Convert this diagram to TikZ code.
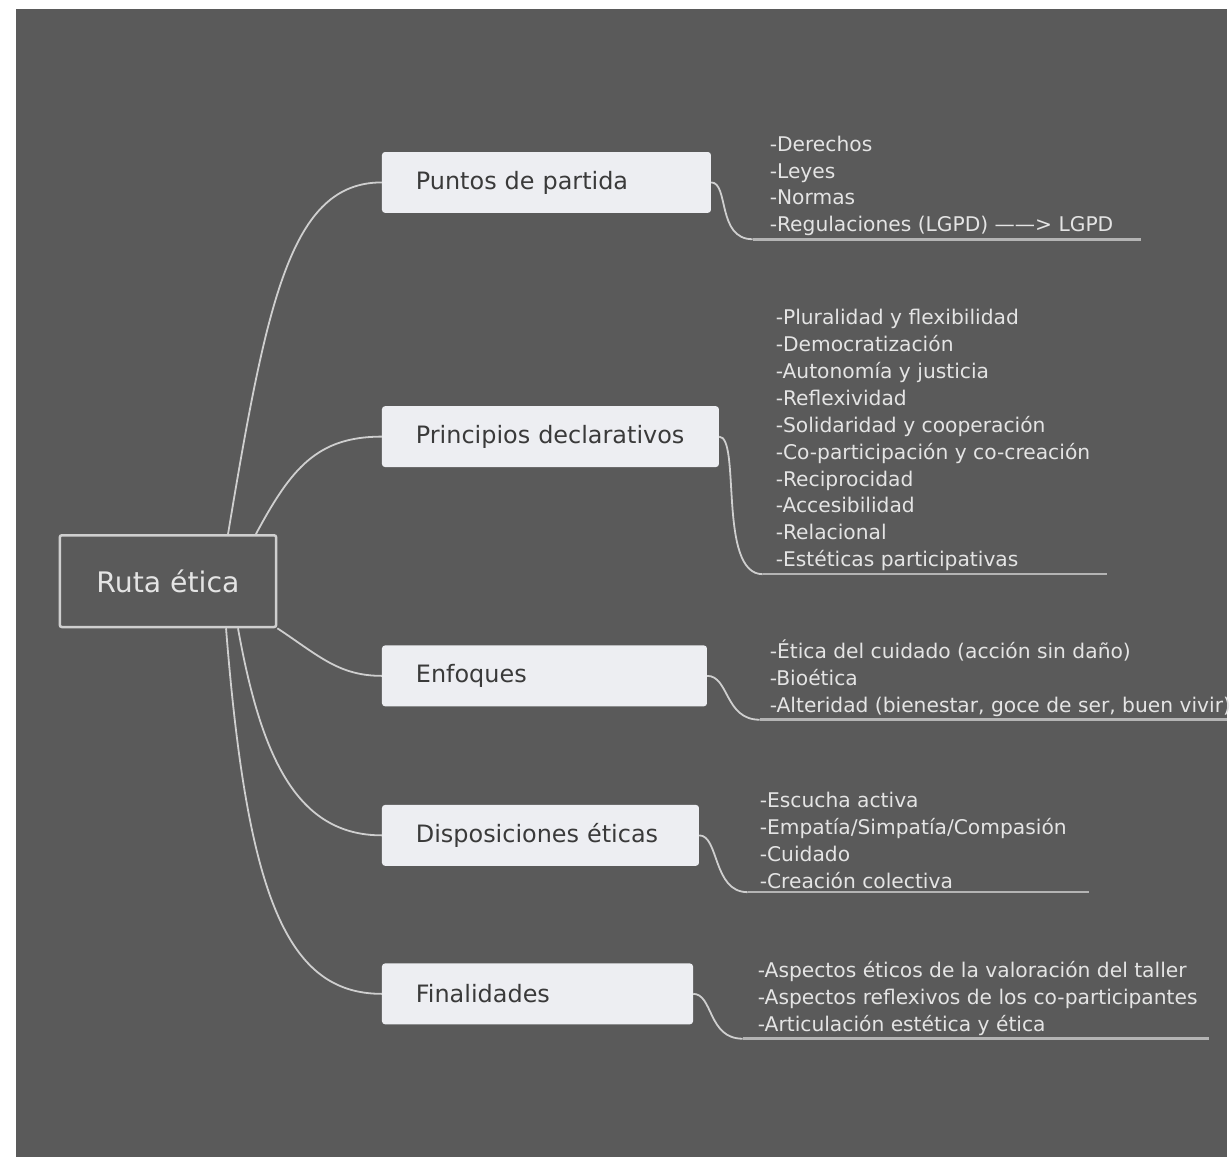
\documentclass[tikz,border=0pt]{standalone}
\usepackage{fontspec}
\setmainfont{DejaVu Sans}
\usetikzlibrary{positioning}
\definecolor{fondo}{HTML}{5A5A5A}
\definecolor{cajafondo}{HTML}{EDEEF2}
\definecolor{textooscuro}{HTML}{3A3A3A}
\definecolor{textoclaro}{HTML}{E4E4E4}
\definecolor{linea}{HTML}{CFCFCF}
\definecolor{lineagris}{HTML}{B4B4B4}
\tikzset{
  raiz/.style={draw=linea, line width=2.5pt, fill=fondo, rounded corners=2pt, minimum width=217pt, minimum height=92pt, text=textoclaro, font=\fontsize{28.4}{33}\selectfont},
  rama/.style={fill=cajafondo, rounded corners=3pt, minimum height=61pt, inner xsep=34pt, text width=#1, align=left, text=textooscuro, font=\fontsize{24}{28}\selectfont, anchor=west},
  hojas/.style={anchor=south west, inner sep=0pt, align=left, text=textoclaro, font=\fontsize{20.3}{27}\selectfont},
  enlace/.style={draw=linea, line width=1.8pt},
  subrayado/.style={draw=lineagris, line width=2.6pt}
}
\begin{document}
\begin{tikzpicture}[x=1pt, y=-1pt]
        \fill[white] (0,0) rectangle (1231,1161);
        \fill[fondo] (16,9) rectangle (1231,1161);
        \node[raiz] (ruta) at (168.5,583) {Ruta ética};
        \node[rama=262pt] (puntos) at (383,183) {Puntos de partida};
        \node[rama=270pt] (principios) at (383,438) {Principios declarativos};
        \node[rama=258pt] (enfoques) at (383,678) {Enfoques};
        \node[rama=250pt] (disposiciones) at (383,838) {Disposiciones éticas};
        \node[rama=244pt] (finalidades) at (383,997) {Finalidades};
        \draw[enlace] ([xshift=170pt]ruta.north west) .. controls (268,300) and (292,183) .. (puntos.west);
        \draw[enlace] ([xshift=198pt]ruta.north west) .. controls (292,470) and (318,438) .. (principios.west);
        \draw[enlace] (ruta.south east) .. controls (320,658) and (340,678) .. (enfoques.west);
        \draw[enlace] ([xshift=180pt]ruta.south west) .. controls (262,760) and (298,838) .. (disposiciones.west);
        \draw[enlace] ([xshift=168pt]ruta.south west) .. controls (248,900) and (288,997) .. (finalidades.west);
        \coordinate (upuntos-a) at (755,240);
        \coordinate (upuntos-b) at (1145,240);
        \coordinate (uprincipios-a) at (765,576);
        \coordinate (uprincipios-b) at (1110,576);
        \coordinate (uenfoques-a) at (762,722);
        \coordinate (uenfoques-b) at (1231,722);
        \coordinate (udisposiciones-a) at (750,895);
        \coordinate (udisposiciones-b) at (1092,895);
        \coordinate (ufinalidades-a) at (745,1042);
        \coordinate (ufinalidades-b) at (1213,1042);
        \node[hojas] (hpuntos) at (772,237) {-Derechos\\-Leyes\\-Normas\\-Regulaciones (LGPD) ------> LGPD};
        \node[hojas] (hprincipios) at (778,573) {-Pluralidad y flexibilidad\\-Democratización\\-Autonomía y justicia\\-Reflexividad\\-Solidaridad y cooperación\\-Co-participación y co-creación\\-Reciprocidad\\-Accesibilidad\\-Relacional\\-Estéticas participativas};
        \node[hojas] (henfoques) at (772,719) {-Ética del cuidado (acción sin daño)\\-Bioética\\-Alteridad (bienestar, goce de ser, buen vivir)};
        \node[hojas] (hdisposiciones) at (762,892) {-Escucha activa\\-Empatía/Simpatía/Compasión\\-Cuidado\\-Creación colectiva};
        \node[hojas] (hfinalidades) at (760,1039) {-Aspectos éticos de la valoración del taller\\-Aspectos reflexivos de los co-participantes\\-Articulación estética y ética};
        \draw[enlace] (puntos.east) .. controls +(18,0) and +(-36,0) .. (upuntos-a);
        \draw[subrayado] (upuntos-a) -- (upuntos-b);
        \draw[enlace] (principios.east) .. controls +(22,0) and +(-45,0) .. (uprincipios-a);
        \draw[subrayado] (uprincipios-a) -- (uprincipios-b);
        \draw[enlace] (enfoques.east) .. controls +(22,0) and +(-35,0) .. (uenfoques-a);
        \draw[subrayado] (uenfoques-a) -- (uenfoques-b);
        \draw[enlace] (disposiciones.east) .. controls +(20,0) and +(-35,0) .. (udisposiciones-a);
        \draw[subrayado] (udisposiciones-a) -- (udisposiciones-b);
        \draw[enlace] (finalidades.east) .. controls +(20,0) and +(-35,0) .. (ufinalidades-a);
        \draw[subrayado] (ufinalidades-a) -- (ufinalidades-b);
\end{tikzpicture}
\end{document}
